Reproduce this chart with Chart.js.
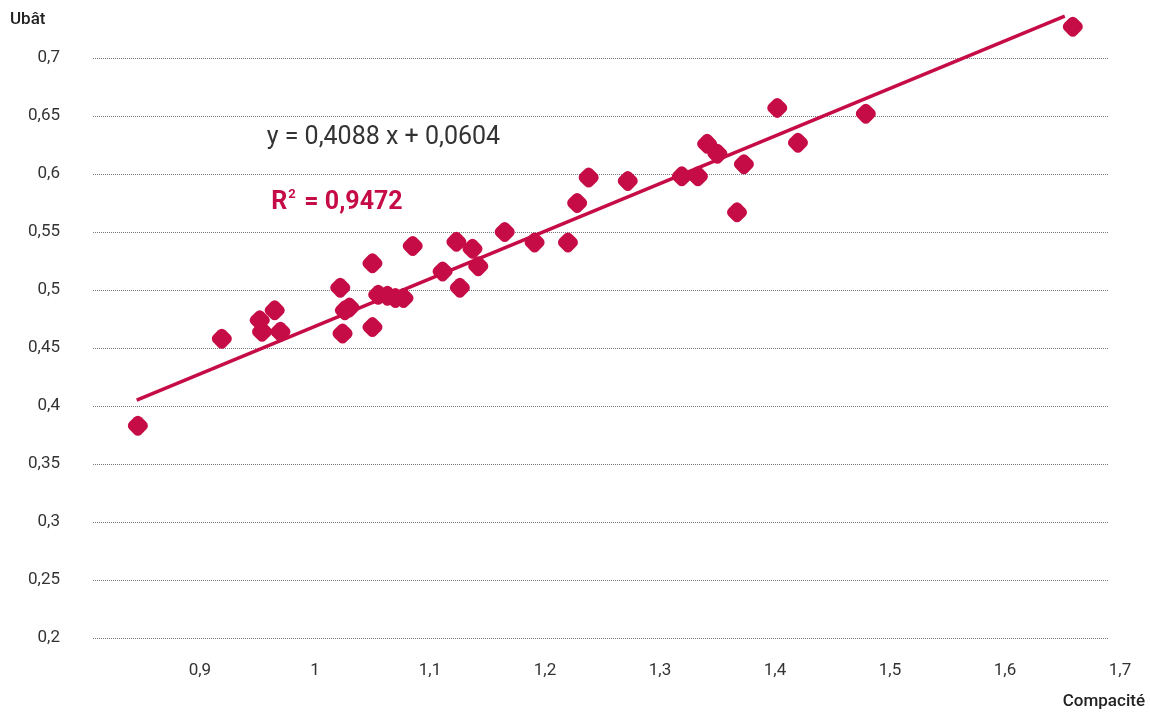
<!DOCTYPE html>
<html>
<head>
<meta charset="utf-8">
<script src="https://cdn.jsdelivr.net/npm/chart.js@4"></script>
<style>
    html, body { margin: 0; padding: 0; background: #fff; }
    #wrap { width: 1150px; height: 714px; position: relative; }
</style>
</head>
<body>
<div id="wrap"><canvas id="scatterChart"></canvas></div>
<script>
// compacité (x) / Ubât (y)
const compacite = [
    0.846, 0.919, 0.952, 0.954, 0.965, 0.970, 1.022, 1.024, 1.026, 1.030,
    1.050, 1.050, 1.055, 1.063, 1.070, 1.077, 1.085, 1.111, 1.123, 1.126,
    1.137, 1.142, 1.165, 1.191, 1.220, 1.228, 1.238, 1.272, 1.319, 1.333,
    1.341, 1.350, 1.367, 1.373, 1.402, 1.420, 1.479, 1.659
];
const ubat = [
    0.383, 0.458, 0.474, 0.464, 0.4825, 0.464, 0.502, 0.4625, 0.4825, 0.485,
    0.523, 0.468, 0.496, 0.495, 0.493, 0.493, 0.538, 0.516, 0.5415, 0.502,
    0.5355, 0.5205, 0.550, 0.541, 0.541, 0.575, 0.597, 0.594, 0.598, 0.598,
    0.626, 0.6175, 0.567, 0.6085, 0.657, 0.627, 0.652, 0.727
];
// trend line end points
const trendX = [0.845, 1.652];
const trendY = [0.405, 0.736];

const xTicks = [0.9, 1, 1.1, 1.2, 1.3, 1.4, 1.5, 1.6, 1.7];
const yTicks = [0.2, 0.25, 0.3, 0.35, 0.4, 0.45, 0.5, 0.55, 0.6, 0.65, 0.7];

const equationText = 'y = 0,4088 x + 0,0604';
const r2Label = 'R';
const r2Value = '= 0,9472';

const CRIMSON = '#c60c46';
const FONT = 'Roboto, "DejaVu Sans", sans-serif';

const fmt = v => String(v).replace('.', ',');

const textPlugin = {
    id: 'texts',
    afterDraw(chart) {
        const ctx = chart.ctx;
        const xs = chart.scales.x, ys = chart.scales.y;
        ctx.save();
        ctx.textBaseline = 'middle';

        // axis names
        ctx.fillStyle = '#222';
        ctx.font = '500 17px ' + FONT;
        ctx.textAlign = 'left';
        ctx.fillText('Ubât', 10, 20);
        ctx.textAlign = 'right';
        ctx.fillText('Compacité', chart.width - 5, 702);

        // regression equation
        ctx.textAlign = 'left';
        ctx.fillStyle = '#333';
        ctx.font = '25px ' + FONT;
        ctx.fillText(equationText, xs.getPixelForValue(0.958), ys.getPixelForValue(0.631));

        const rx = xs.getPixelForValue(0.962);
        const ry = ys.getPixelForValue(0.575);
        ctx.fillStyle = CRIMSON;
        ctx.font = 'bold 25px ' + FONT;
        ctx.fillText(r2Label, rx, ry);
        const rw = ctx.measureText(r2Label).width;
        ctx.font = 'bold 13px ' + FONT;
        ctx.fillText('2', rx + rw + 1, ry - 8);
        ctx.font = 'bold 25px ' + FONT;
        ctx.fillText(r2Value, rx + rw + 17, ry);
        ctx.restore();
    }
};

const points = compacite.map((x, i) => ({ x, y: ubat[i] }));
const trend = trendX.map((x, i) => ({ x, y: trendY[i] }));

new Chart(document.getElementById('scatterChart'), {
    type: 'scatter',
    data: {
        datasets: [
            {
                type: 'line',
                data: trend,
                borderColor: CRIMSON,
                borderWidth: 3.5,
                pointRadius: 0,
                fill: false,
                clip: false,
                order: 2
            },
            {
                data: points,
                backgroundColor: CRIMSON,
                borderColor: CRIMSON,
                borderWidth: 0,
                pointStyle: 'rectRounded',
                rotation: 45,
                pointRadius: 10,
                clip: false,
                order: 1
            }
        ]
    },
    options: {
        responsive: true,
        maintainAspectRatio: false,
        animation: false,
        layout: { autoPadding: false, padding: { left: 0, right: 42, top: 0, bottom: 0 } },
        plugins: {
            legend: { display: false },
            tooltip: { enabled: false }
        },
        scales: {
            x: {
                type: 'linear',
                bounds: 'data',
                min: 0.807,
                max: 1.6896,
                afterBuildTicks: s => { s.ticks = xTicks.map(v => ({ value: v })); },
                afterFit: s => {
                    s.height = 76;
                    s.paddingLeft = 0;
                    s.paddingRight = 0;
                },
                grid: { display: false },
                border: { display: false },
                ticks: {
                    autoSkip: false,
                    maxRotation: 0,
                    padding: 15,
                    color: '#333',
                    font: { family: FONT, size: 17 },
                    callback: v => fmt(v)
                }
            },
            y: {
                type: 'linear',
                bounds: 'data',
                min: 0.2,
                max: 0.75,
                afterBuildTicks: s => { s.ticks = yTicks.map(v => ({ value: v })); },
                afterFit: s => {
                    s.width = 93;
                    s.paddingTop = 0;
                    s.paddingBottom = 0;
                },
                grid: { color: '#777', lineWidth: 1, drawTicks: false },
                border: { display: false, dash: [1, 1] },
                ticks: {
                    padding: 33,
                    color: '#333',
                    font: { family: FONT, size: 17 },
                    callback: v => fmt(v)
                }
            }
        }
    },
    plugins: [textPlugin]
});
</script>
</body>
</html>
